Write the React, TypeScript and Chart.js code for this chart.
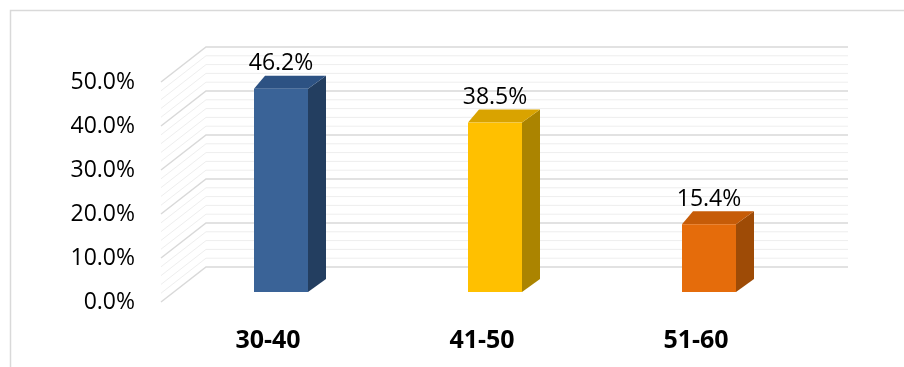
import React, { useEffect, useRef } from "react";
import { Chart, registerables } from "chart.js";

Chart.register(...registerables);

const categories = ["30-40", "41-50", "51-60"];
const values = [0.462, 0.385, 0.154];
const valueLabels = ["46.2%", "38.5%", "15.4%"];
const yTicks = [0, 0.1, 0.2, 0.3, 0.4, 0.5];
const minorStep = 0.02;
const frontColors = ["#3A6397", "#FFC000", "#E56C0B"];
const topColors = ["#2D5283", "#D9A300", "#C65C08"];
const sideColors = ["#233E60", "#AB8400", "#9E4B06"];

const FONT = "'Open Sans', 'Liberation Sans', sans-serif";

// 3D geometry offsets (pixels)
const WALL = { dx: 45, dy: -35 };
const FRONT = { dx: 13, dy: -10 };
const DEPTH = { dxL: 11, dxR: 18, dy: -13 };

const threeD = {
  id: "threeD",
  beforeDraw(chart: any) {
    const ctx = chart.ctx;
    ctx.save();
    ctx.fillStyle = "#ffffff";
    ctx.fillRect(0, 0, chart.width, chart.height);
    ctx.strokeStyle = "#d9d9d9";
    ctx.lineWidth = 1.5;
    ctx.beginPath();
    ctx.moveTo(10.5, chart.height + 2);
    ctx.lineTo(10.5, 10.5);
    ctx.lineTo(chart.width + 2, 10.5);
    ctx.stroke();
    ctx.restore();
  },
  beforeDatasetsDraw(chart: any) {
    const ctx = chart.ctx;
    const y = chart.scales.y;
    const area = chart.chartArea;
    const left = area.left;
    const right = area.right;
    ctx.save();
    const nMinor = Math.round(0.5 / minorStep);
    for (let i = 0; i <= nMinor; i++) {
      const v = i * minorStep;
      if (Math.abs(v * 10 - Math.round(v * 10)) < 1e-6) continue;
      const py = y.getPixelForValue(v);
      ctx.strokeStyle = "#eeeeee";
      ctx.lineWidth = 1;
      ctx.beginPath();
      ctx.moveTo(left, py);
      ctx.lineTo(left + WALL.dx, py + WALL.dy);
      ctx.lineTo(right + WALL.dx, py + WALL.dy);
      ctx.stroke();
    }
    yTicks.forEach((v) => {
      const py = y.getPixelForValue(v);
      ctx.strokeStyle = "#d9d9d9";
      ctx.lineWidth = 1.5;
      ctx.beginPath();
      ctx.moveTo(left, py);
      ctx.lineTo(left + WALL.dx, py + WALL.dy);
      ctx.lineTo(right + WALL.dx, py + WALL.dy);
      ctx.stroke();
    });
    const meta = chart.getDatasetMeta(0);
    meta.data.forEach((bar: any, i: number) => {
      const w = bar.width;
      const x0 = bar.x - w / 2 + FRONT.dx;
      const x1 = bar.x + w / 2 + FRONT.dx;
      const yt = bar.y + FRONT.dy;
      const yb = bar.base + FRONT.dy;
      ctx.fillStyle = sideColors[i];
      ctx.beginPath();
      ctx.moveTo(x1, yt);
      ctx.lineTo(x1 + DEPTH.dxR, yt + DEPTH.dy);
      ctx.lineTo(x1 + DEPTH.dxR, yb + DEPTH.dy);
      ctx.lineTo(x1, yb);
      ctx.closePath();
      ctx.fill();
      ctx.fillStyle = topColors[i];
      ctx.beginPath();
      ctx.moveTo(x0, yt);
      ctx.lineTo(x0 + DEPTH.dxL, yt + DEPTH.dy);
      ctx.lineTo(x1 + DEPTH.dxR, yt + DEPTH.dy);
      ctx.lineTo(x1, yt);
      ctx.closePath();
      ctx.fill();
      ctx.fillStyle = frontColors[i];
      ctx.fillRect(x0, yt, x1 - x0, yb - yt);
      ctx.fillStyle = "#000000";
      ctx.font = `23px ${FONT}`;
      ctx.textAlign = "center";
      ctx.textBaseline = "middle";
      ctx.fillText(valueLabels[i], (x0 + x1) / 2, yt + DEPTH.dy - 12);
    });
    ctx.restore();
  },
};

export default function App() {
  const ref = useRef<HTMLCanvasElement | null>(null);
  useEffect(() => {
    if (!ref.current) return;
    const chart = new Chart(ref.current, {
      type: "bar",
      data: {
        labels: categories,
        datasets: [
          {
            data: values,
            backgroundColor: "rgba(0,0,0,0)",
            borderWidth: 0,
            barPercentage: 54 / 214,
            categoryPercentage: 1,
          },
        ],
      },
      options: {
        animation: false,
        responsive: false,
        maintainAspectRatio: false,
        layout: { padding: { left: 0, right: 101, top: 82, bottom: 0 } },
        plugins: {
          legend: { display: false },
          tooltip: { enabled: false },
          title: { display: false },
        },
        scales: {
          x: {
            grid: { display: false, drawTicks: false },
            border: { display: false },
            ticks: {
              color: "#000000",
              padding: 24,
              font: { family: FONT, size: 25, weight: "bold" },
            },
            afterFit(scale: any) {
              scale.height = 65;
            },
          },
          y: {
            min: 0,
            max: 0.5,
            grid: { display: false, drawTicks: false },
            border: { display: false },
            ticks: {
              stepSize: 0.1,
              padding: 26,
              color: "#000000",
              font: { family: FONT, size: 23 },
              callback: (v: any) => (Number(v) * 100).toFixed(1) + "%",
            },
            afterFit(scale: any) {
              scale.width = 161;
            },
          },
        },
      },
      plugins: [threeD],
    });
    return () => chart.destroy();
  }, []);
  return (
    <div style={{ position: "fixed", left: 0, top: 0, width: 904, height: 367, overflow: "hidden", background: "#fff" }}>
      <canvas ref={ref} width={904} height={367} style={{ display: "block", width: 904, height: 367 }} />
    </div>
  );
}
